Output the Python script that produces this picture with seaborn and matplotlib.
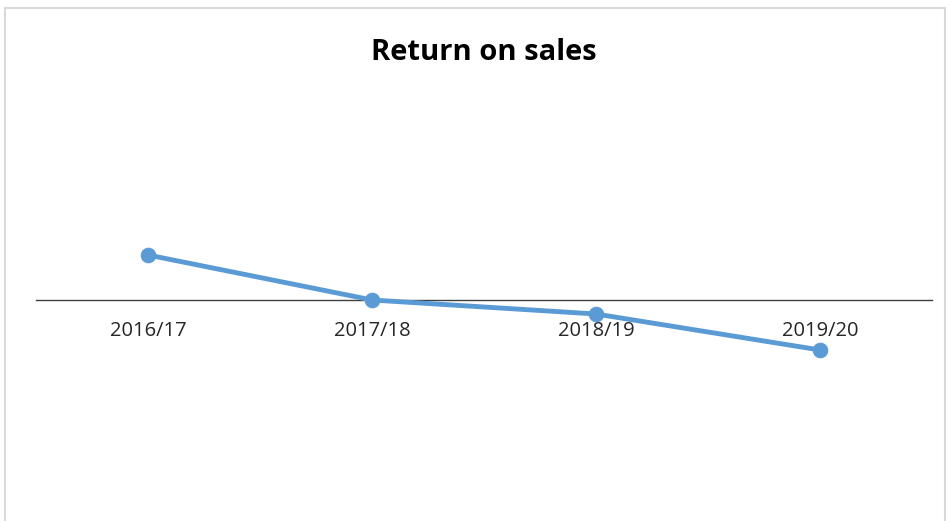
import matplotlib
matplotlib.use("Agg")
import matplotlib.pyplot as plt
import seaborn as sns
import pandas as pd
from matplotlib.patches import Rectangle

years = ["2016/17", "2017/18", "2018/19", "2019/20"]
return_on_sales = [0.045, 0.0, -0.014, -0.050]

df = pd.DataFrame({"year": years, "ros": return_on_sales})

sns.set_theme(style="white")
plt.rcParams["font.family"] = ["Open Sans", "DejaVu Sans"]

fig = plt.figure(figsize=(9.51, 5.21), dpi=100)
ax = fig.add_axes([36/951, (521-510)/521, 896/951, (510-90)/521])

sns.lineplot(data=df, x="year", y="ros", ax=ax, color="#5B9BD5",
             linewidth=3.5, marker="o", markersize=10.5,
             markeredgecolor="#5B9BD5", sort=False)

ax.set_xlim(-0.5, 3.5)
ax.set_ylim(-0.21, 0.21)
for s in ["top", "right", "left"]:
    ax.spines[s].set_visible(False)
ax.spines["bottom"].set_position(("data", 0))
ax.spines["bottom"].set_color("#404040")
ax.spines["bottom"].set_linewidth(1.0)
ax.spines["bottom"].set_zorder(1)
ax.set_yticks([])
ax.set_xticks(range(len(years)))
ax.set_xticklabels(years, fontsize=14.5, color="#262626")
ax.tick_params(axis="x", length=0, pad=15)
ax.set_xlabel("")
ax.set_ylabel("")
ax.patch.set_alpha(0)

fig.text(484/951, 1 - 52/521, "Return on sales", ha="center", va="center",
         fontsize=21, fontweight="bold", color="black")

fig.patches.append(Rectangle((5/951, -0.01), (945-5)/951, (521-8)/521 + 0.01,
                             transform=fig.transFigure, fill=False,
                             edgecolor="#d9d9d9", linewidth=1.5))

fig.savefig("out.png", dpi=100)
